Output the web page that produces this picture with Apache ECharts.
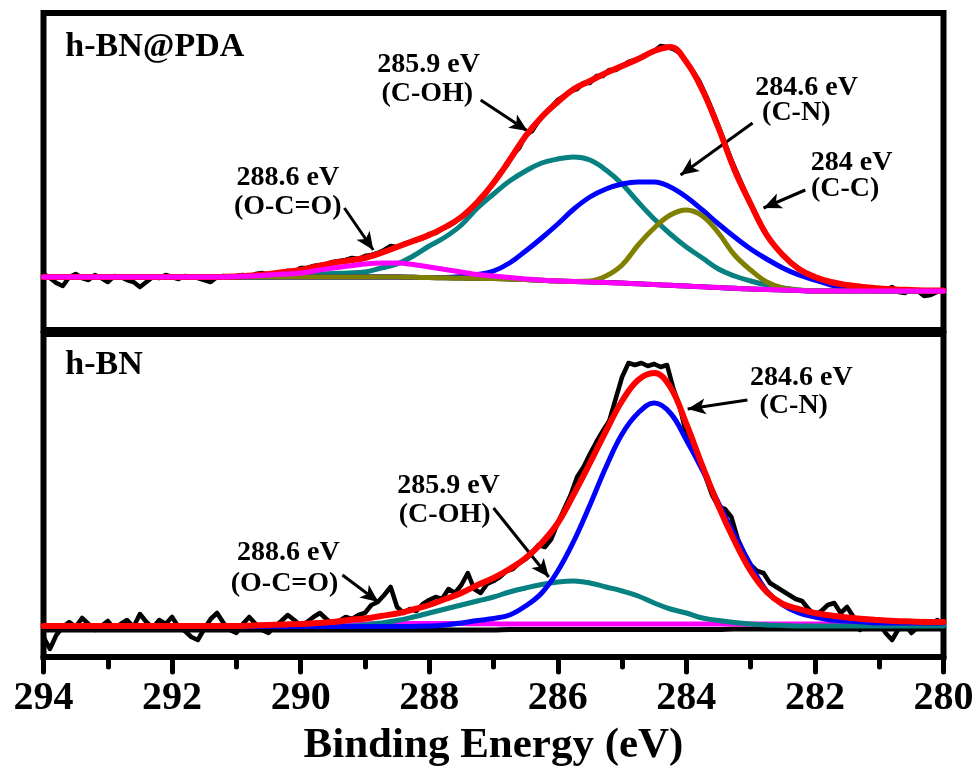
<!DOCTYPE html>
<html>
<head>
<meta charset="utf-8">
<script src="https://cdn.jsdelivr.net/npm/echarts@6/dist/echarts.min.js"></script>
<style>html,body{margin:0;padding:0;background:#fff}#c{width:976px;height:767px}</style>
</head>
<body>
<div id="c"></div>
<script>
// Binding energy samples (eV)
const eFit = [294,293.75,293.5,293.25,293,292.75,292.5,292.25,292,291.75,
  291.5,291.25,291,290.75,290.5,290.25,290,289.75,289.5,289.25,
  289,288.75,288.5,288.25,288,287.75,287.5,287.25,287,286.75,
  286.5,286.25,286,285.75,285.5,285.25,285,284.75,284.5,284.25,
  284,283.75,283.5,283.25,283,282.75,282.5,282.25,282,281.75,
  281.5,281.25,281,280.75,280.5,280.25,280];
const eRaw = [294,293.9,293.8,293.7,293.6,293.5,293.4,293.3,293.2,293.1,
  293,292.9,292.8,292.7,292.6,292.5,292.4,292.3,292.2,292.1,
  292,291.9,291.8,291.7,291.6,291.5,291.4,291.3,291.2,291.1,
  291,290.9,290.8,290.7,290.6,290.5,290.4,290.3,290.2,290.1,
  290,289.9,289.8,289.7,289.6,289.5,289.4,289.3,289.2,289.1,
  289,288.9,288.8,288.7,288.6,288.5,288.4,288.3,288.2,288.1,
  288,287.9,287.8,287.7,287.6,287.5,287.4,287.3,287.2,287.1,
  287,286.9,286.8,286.7,286.6,286.5,286.4,286.3,286.2,286.1,
  286,285.9,285.8,285.7,285.6,285.5,285.4,285.3,285.2,285.1,
  285,284.9,284.8,284.7,284.6,284.5,284.4,284.3,284.2,284.1,
  284,283.9,283.8,283.7,283.6,283.5,283.4,283.3,283.2,283.1,
  283,282.9,282.8,282.7,282.6,282.5,282.4,282.3,282.2,282.1,
  282,281.9,281.8,281.7,281.6,281.5,281.4,281.3,281.2,281.1,
  281,280.9,280.8,280.7,280.6,280.5,280.4,280.3,280.2,280.1,
  280];

// ---- h-BN@PDA (top panel), intensity a.u.
const pdaRaw = [56,52,47,44,53,56,52,50,55,52,
  48,54,53,50,48,43,48,53,52,55,
  53,51,54,53,52,50,48,53,54,53,
  54,55,53,56,57,55,56,57,59,58,
  62,62,64,65,66,68,69,70,72,71,
  74,75,77,80,84,83,86,88,90,92,
  96,97,101,104,108,113,117,124,130,138,
  148,157,164,175,182,195,199,209,216,223,
  230,234,239,241,247,247,254,254,260,260,
  264,268,270,273,276,279,284,283,281,277,
  268,259,249,235,220,204,187,170,155,140,
  126,112,100,90,82,75,69,64,59,55,
  53,50,48,47,46,44,42,44,41,39,
  42,40,43,38,37,40,39,34,35,38,
  40];
const pdaBg = [53,53,53,53,53,53,53,53,53,53,
  53,53,53,53,53,53,53,53,53,53,
  53,53,53,52.7,52.5,52.2,52,51.7,51.5,51,
  50.5,49.7,49,48.5,48,47.5,47,46.2,45.5,44.7,
  44,43.2,42.5,41.7,41,40.5,40,39.5,39,39,
  39,39,39,39,39,39,39];
const pdaFit = [53,53,53,53,53,53,53,53,53,53,
  53,53,53.5,54.5,56,58,60,63.5,67,69.5,
  72,77,83,89,95,103,113,128,147,170,
  194,213,228,241,249,257,264,271,279,283,
  268,240,202,160,126,95,75,61,53,48,
  45,43,41.5,40.5,40,39.5,39.5];
const pdaCOH = [53,53,53,53,53,53,53,53,53,53,
  53,53,53,53,53,54,55,56,56.5,57,
  58,62,66,74,84,93,105,122,136,149,
  159,167,171,173,170,160,146,128,111,96,
  83,72,61,54,49,45,42,40,39,39,
  39,39,39,39,39,39,39];
const pdaCN = [53,53,53,53,53,53,53,53,53,53,
  53,53,53,53,53,53,53,53,53,53,
  53,53,53,52.7,52.5,52.5,53.5,55.5,59,67,
  79,92,106,121,133,141,146,148,148,143,
  133,120,106,93,81,71,62,55,50,45,
  42,40,39,39,39,39,39];
const pdaCC = [53,53,53,53,53,53,53,53,53,53,
  53,53,53,53,53,53,53,53,53,53,
  53,53,53,52.7,52.5,52.2,52,51.7,51.5,51,
  50.5,49.7,49,48.5,49,54,65,85,102,115,
  120,114,97,75,60,48,42,40,39,39,
  39,39,39,39,39,39,39];
const pdaOCO = [53,53,53,53,53,53,53,53,53,53,
  53,53,53.5,54,55,56,57,59.5,62,64,
  66,67,67,65.5,63,60.5,58,55.5,54,52.5,
  51,49.7,49,48.5,48,47.5,47,46.2,45.5,44.7,
  44,43.2,42.5,41.7,41,40.5,40,39.5,39,39,
  39,39,39,39,39,39,39];

// ---- h-BN (bottom panel), intensity a.u.
const bnRaw = [20,8,22,30,35,30,39,33,27,31,
  36,28,33,37,30,43,35,29,37,33,
  40,30,26,20,17,28,38,44,34,27,
  24,33,40,33,27,24,31,36,42,37,
  31,35,40,44,38,33,36,40,38,42,
  44,52,55,62,70,50,44,48,46,53,
  57,60,58,68,64,72,84,68,64,73,
  76,80,86,88,94,98,104,112,110,118,
  134,148,162,180,190,203,215,226,236,258,
  280,294,292,294,291,293,290,292,268,250,
  222,206,196,180,162,150,148,140,118,104,
  92,86,84,74,70,66,62,58,56,48,
  42,46,52,54,44,50,40,27,32,38,
  34,24,17,28,33,24,30,36,32,37,
  34];
const bnBg = [27,27,27,27,27,27,27,27,27,27,
  27,27,27,27,27,27,27,27,27,27,
  27,27,27,27,27,27,27,27,27,27.5,
  27.5,27.5,27.5,27.5,27.5,27.5,27.5,27.5,27.5,27.5,
  27.5,27.5,27.5,28,28,28,28,28,28,28,
  28,28,28,28,28,28,28];
const bnFit = [31,31,31,31,31,31,31,31,31,31,
  31,31,31,31.5,32,32.5,33,34,35,37,
  38.5,41,43.5,47.5,52,58,64,72,79,88,
  99,114,134,163,194,226,256,277,284,270,
  233,191,151,116,86,65,53,48,44,41.5,
  39.5,38,37,36,35.5,35,35];
const bnCOH = [30.5,30.5,30.5,30.5,30.5,30.5,30.5,30.5,30.5,30.5,
  30.5,30.5,30.5,30.5,30.5,30.5,30.5,30.5,30.5,31,
  32,34,36.5,40,44,48,52,56,60,65,
  69,72.5,75,76,74,70,66,61,54,48,
  44,39,36.5,34.5,33,32,31.5,31,31,31,
  31,31,31,31,31,31,31];
const bnCN = [30.5,30.5,30.5,30.5,30.5,30.5,30.5,30.5,30.5,30.5,
  30.5,30.5,30.5,30.5,30.5,30.5,30.5,30.5,30.5,30.5,
  30.5,30.5,30.5,30.5,31,32,34,36.5,38.5,42,
  51,64,86,116,152,190,223,244,254,244,
  217,187,154,122,92,66,52,44,40,37,
  36,35,34,34,34,34,34];
const bnOCO = [31,31,31,31,31,31,31,31,31,31,
  31,31,31,31.2,31.4,31.6,31.8,32,32.3,32.6,
  33,33.3,33.5,33.6,33.6,33.5,33.4,33.3,33.2,33,
  33,33,33,33,33,33,33,33,33,33,
  33,33,33,33,33,33,33,33,33,33,
  33,33,33,33,33,33,33];

// annotations: [text, eV, intensity]
const pdaNotes = [['285.9 eV',288.01,265],['(C-OH)',288.03,236],
  ['288.6 eV',290.20,152],['(O-C=O)',290.20,123],
  ['284.6 eV',282.13,242],['(C-N)',282.29,217],
  ['284 eV',281.43,167],['(C-C)',281.53,141]];
const bnNotes = [['284.6 eV',282.21,279],['(C-N)',282.33,251],
  ['285.9 eV',287.70,171],['(C-OH)',287.76,142],
  ['288.6 eV',290.19,104],['(O-C=O)',290.25,73]];
// arrows: [eV start, intensity start, eV end, intensity end]
const pdaArrows = [[287.20,230,286.47,199],[289.32,122,288.87,80],[282.97,207,284.09,155],[282.15,140,282.80,122]];
const bnArrows = [[283.05,257,283.98,248],[287.0,149,286.14,80],[289.35,82,288.79,55]];
const panelNames = [['h-BN@PDA',293.66,283],['h-BN',293.66,292]];

const FONT = 'Liberation Serif';
const pairs = (xs, ys) => xs.map((x, i) => [x, ys[i]]);
function ln(xs, ys, color, width, g, smooth, z) {
  return {type:'line', xAxisIndex:g, yAxisIndex:g, data:pairs(xs, ys), showSymbol:false, symbol:'none',
    smooth:smooth, silent:true, z:z, lineStyle:{color:color, width:width, join:'round', cap:'round'}};
}
function arrows(list) {
  return {silent:true, symbol:['none','arrow'], symbolSize:[12,18], label:{show:false},
    lineStyle:{color:'#000', width:3, type:'solid'}, emphasis:{disabled:true},
    data:list.map(a => [{coord:[a[0],a[1]]},{coord:[a[2],a[3]]}])};
}

const chart = echarts.init(document.getElementById('c'));
const TEAL = '#068080', OLIVE = '#808000';
const sPdaFit = ln(eFit, pdaFit, '#ff0000', 6, 0, 0.4, 8); sPdaFit.markLine = arrows(pdaArrows);
const sBnFit = ln(eFit, bnFit, '#ff0000', 6, 1, 0.4, 8); sBnFit.markLine = arrows(bnArrows);
chart.setOption({
  animation:false,
  backgroundColor:'#fff',
  textStyle:{fontFamily:FONT},
  grid:[
    {left:43.5, right:32.5, top:13, height:317, outerBoundsMode:'none', containLabel:false, show:true, borderColor:'#000', borderWidth:6, backgroundColor:'transparent'},
    {left:43.5, right:32.5, top:334, height:323, outerBoundsMode:'none', containLabel:false, show:true, borderColor:'#000', borderWidth:6, backgroundColor:'transparent'}
  ],
  xAxis:[
    {gridIndex:0, type:'value', min:280, max:294, inverse:true, axisLine:{show:false}, axisTick:{show:false}, axisLabel:{show:false}, splitLine:{show:false}},
    {gridIndex:1, type:'value', min:280, max:294, interval:2, inverse:true,
      axisLine:{show:true, onZero:false, lineStyle:{color:'#000', width:6}},
      axisTick:{show:true, length:15, lineStyle:{color:'#000', width:5, cap:'round'}},
      minorTick:{show:true, splitNumber:2, length:10, lineStyle:{color:'#000', width:5, cap:'round'}},
      axisLabel:{color:'#000', fontSize:40, fontWeight:'bold', fontFamily:FONT, margin:22, showMinLabel:true, showMaxLabel:true},
      splitLine:{show:false}, minorSplitLine:{show:false},
      name:'Binding Energy (eV)', nameLocation:'middle', nameGap:67,
      nameTextStyle:{color:'#000', fontSize:43, fontWeight:'bold', fontFamily:FONT}}
  ],
  yAxis:[
    {gridIndex:0, type:'value', min:0, max:317, show:false, splitLine:{show:false}},
    {gridIndex:1, type:'value', min:0, max:323, show:false, splitLine:{show:false}}
  ],
  series:[
    ln(eRaw, pdaRaw, '#000', 4.5, 0, false, 2),
    ln(eFit, pdaBg, '#000', 5, 0, 0.3, 3),
    ln(eFit, pdaCOH, TEAL, 5, 0, 0.4, 4),
    ln(eFit, pdaCN, '#0000ff', 5, 0, 0.4, 5),
    ln(eFit, pdaCC, OLIVE, 5, 0, 0.4, 6),
    sPdaFit,
    ln(eFit, pdaOCO, '#ff00ff', 5, 0, 0.4, 9),
    ln(eRaw, bnRaw, '#000', 4.5, 1, false, 2),
    ln(eFit, bnBg, '#000', 5, 1, 0.3, 3),
    ln(eFit, bnOCO, '#ff00ff', 5, 1, 0.4, 4),
    ln(eFit, bnCOH, TEAL, 5, 1, 0.4, 5),
    ln(eFit, bnCN, '#0000ff', 5, 1, 0.4, 6),
    sBnFit
  ]
});

const gfx = [];
function addNotes(list, g, size, align) {
  list.forEach(n => {
    const p = chart.convertToPixel({gridIndex:g}, [n[1], n[2]]);
    gfx.push({type:'text', x:p[0], y:p[1], z:100, silent:true,
      style:{text:n[0], fill:'#000', fontSize:size, fontWeight:'bold', fontFamily:FONT, align:align, verticalAlign:'middle'}});
  });
}
addNotes(pdaNotes, 0, 28, 'center');
addNotes(bnNotes, 1, 28, 'center');
addNotes([panelNames[0]], 0, 34, 'left');
addNotes([panelNames[1]], 1, 34, 'left');
chart.setOption({graphic:gfx});
</script>
</body>
</html>
